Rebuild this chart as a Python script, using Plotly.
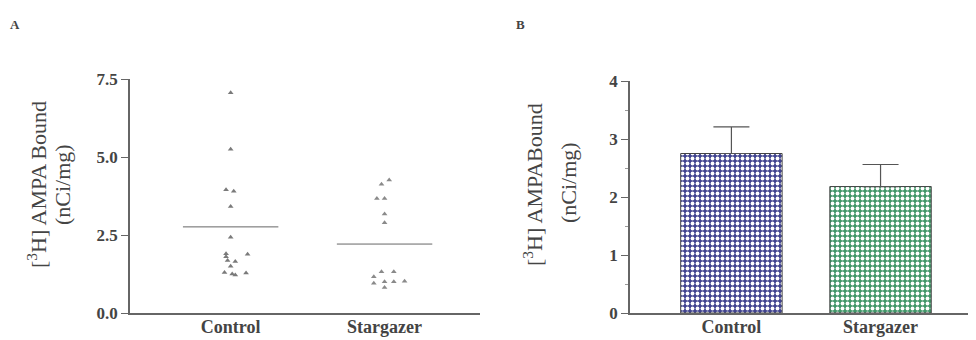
import plotly.graph_objects as go

# panel A - individual values (scatter), x = group position + small jitter
ctrl_x = [1.0, 1.0, 0.97, 1.02, 1.0, 1.0, 0.97, 1.11, 0.97, 0.98, 1.03, 1.0, 0.96, 1.01, 1.10, 1.03]
ctrl_y = [7.06, 5.25, 3.95, 3.90, 3.41, 2.43, 1.90, 1.88, 1.80, 1.68, 1.65, 1.50, 1.30, 1.25, 1.28, 1.22]
starg_x = [2.03, 1.98, 1.95, 2.0, 2.0, 2.0, 1.98, 2.06, 1.93, 2.0, 2.06, 2.13, 1.93, 2.0]
starg_y = [4.26, 4.13, 3.67, 3.67, 3.17, 2.89, 1.32, 1.32, 1.16, 1.0, 1.0, 1.02, 0.95, 0.82]
means = [2.76, 2.21]

# panel B - bars with SEM
groups = ["Control", "Stargazer"]
bar_vals = [2.75, 2.18]
bar_err = [0.46, 0.38]

ink = "#444444"
serif = "Liberation Serif"

# page body has an 8px margin, so size the figure to fit the window
W, H = 968, 332


def px(x):
    return (x - 8) / W


def py(y):
    return 1 - (y - 8) / H


fig = go.Figure()

fig.add_trace(go.Scatter(x=ctrl_x, y=ctrl_y, mode="markers",
                         marker=dict(symbol="triangle-up", size=5, color="#7a7a7a"),
                         xaxis="x", yaxis="y", showlegend=False))
fig.add_trace(go.Scatter(x=starg_x, y=starg_y, mode="markers",
                         marker=dict(symbol="triangle-up", size=5, color="#8a8a8a"),
                         xaxis="x", yaxis="y", showlegend=False))
for i, m in enumerate(means):
    fig.add_trace(go.Scatter(x=[i + 1 - 0.31, i + 1 + 0.31], y=[m, m], mode="lines",
                             line=dict(color="#666666", width=1),
                             xaxis="x", yaxis="y", showlegend=False))

fig.add_trace(go.Bar(x=[1, 2], y=bar_vals, width=0.68,
                     marker=dict(color=["#40438f", "#409668"],
                                 line=dict(color="#444444", width=1),
                                 pattern=dict(shape=".", size=5, solidity=0.45,
                                              fgcolor=["#dcdcf4", "#d2f2e0"], fgopacity=1)),
                     error_y=dict(type="data", array=bar_err, arrayminus=[0, 0], symmetric=False,
                                  color="#555555", thickness=1.2, width=18),
                     xaxis="x2", yaxis="y2", showlegend=False))

tickfont = dict(family=serif, size=17, color=ink, weight="bold")
catfont = dict(family=serif, size=18, color=ink, weight="bold")

fig.update_layout(
    width=W, height=H,
    margin=dict(l=0, r=0, t=0, b=0, autoexpand=False),
    paper_bgcolor="white", plot_bgcolor="white",
    xaxis=dict(domain=[px(130), px(480)], range=[0.346, 2.62],
               tickvals=[1, 2], ticktext=groups, tickfont=catfont, ticks="",
               ticklabelstandoff=-3,
               showline=True, linecolor="#666666", linewidth=1.5, showgrid=False, zeroline=False),
    yaxis=dict(domain=[py(313), py(79)], range=[0, 7.5],
               tickvals=[0, 2.5, 5, 7.5], ticktext=["0.0", "2.5", "5.0", "7.5"],
               tickfont=tickfont, ticks="outside", ticklen=7, tickcolor="#666666",
               showline=True, linecolor="#666666", linewidth=1.5, showgrid=False, zeroline=False),
    xaxis2=dict(domain=[px(630), 1.0], range=[0.32, 2.64],
                tickvals=[1, 2], ticktext=groups, tickfont=catfont, ticks="",
                ticklabelstandoff=-3,
                showline=True, linecolor="#666666", linewidth=1.5, showgrid=False, zeroline=False),
    yaxis2=dict(domain=[py(313), py(81)], range=[0, 4], anchor="x2",
                tickvals=[0, 1, 2, 3, 4], tickfont=tickfont, ticks="outside", ticklen=7,
                tickcolor="#666666", showline=True, linecolor="#666666", linewidth=1.5,
                minor=dict(dtick=0.5, ticks="outside", ticklen=3, tickcolor="#999999"),
                showgrid=False, zeroline=False),
)

ann = dict(xref="paper", yref="paper", showarrow=False, xanchor="center", yanchor="middle",
           font=dict(family=serif, size=22, color=ink))
fig.add_annotation(ann, x=px(37), y=py(185), text="[<sup>3</sup>H] AMPA Bound", textangle=-90)
fig.add_annotation(ann, x=px(62), y=py(185), text="(nCi/mg)", textangle=-90)
fig.add_annotation(ann, x=px(533), y=py(185), text="[<sup>3</sup>H] AMPABound", textangle=-90)
fig.add_annotation(ann, x=px(568), y=py(183), text="(nCi/mg)", textangle=-90)
fig.add_annotation(xref="paper", yref="paper", showarrow=False, xanchor="center", yanchor="middle",
                   x=px(15), y=py(25), text="A",
                   font=dict(family=serif, size=13, color=ink, weight="bold"))
fig.add_annotation(xref="paper", yref="paper", showarrow=False, xanchor="center", yanchor="middle",
                   x=px(520), y=py(25), text="B",
                   font=dict(family=serif, size=13, color=ink, weight="bold"))

fig.write_html("out.html")
